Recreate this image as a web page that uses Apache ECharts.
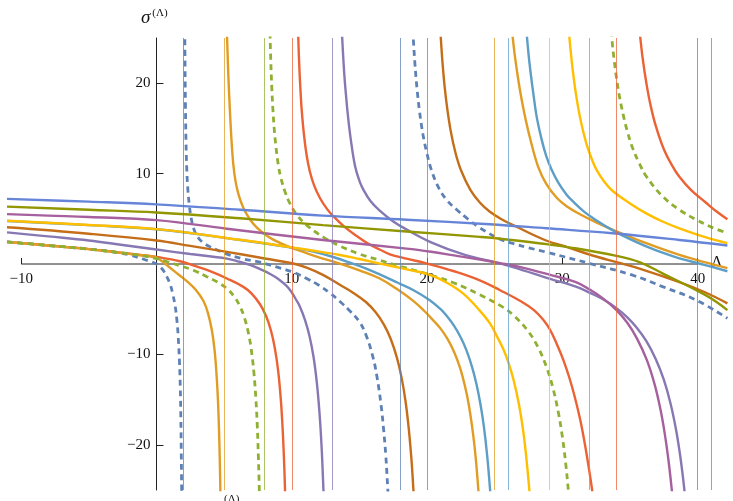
<!DOCTYPE html>
<html>
<head>
<meta charset="utf-8">
<script src="https://cdn.jsdelivr.net/npm/echarts@6/dist/echarts.min.js"></script>
<style>
  html, body { margin: 0; padding: 0; background: #fff; }
  #chart { width: 733px; height: 501px; }
</style>
</head>
<body>
<div id="chart"></div>
<script>
// ---- data: [Λ, σ] pairs, one array per branch ----
const f1a = [[-11.05,2.45],[-8,2.05],[-5,1.65],[-3,1.3],[-2,1.0],[-1,0.55],[-0.5,0.3],[0,0],[0.25,-0.28],[0.5,-0.7],[0.75,-1.35],[1.0,-2.2],[1.2,-3.3],[1.38,-4.65],[1.5,-6.1],[1.6,-7.9],[1.7,-10.9],[1.76,-13.7],[1.8,-17.1],[1.83,-20.6],[1.86,-25],[1.875,-28]];
const f1b = [[2.09,26],[2.11,22],[2.14,17.5],[2.18,13.6],[2.24,10.4],[2.32,8.2],[2.42,6.6],[2.55,5.2],[2.73,4.0],[2.95,3.2],[3.2,2.7],[3.5,2.3],[3.9,1.95],[4.4,1.6],[5.2,1.1],[6.3,0.6],[7.65,0.2],[8.8,-0.3],[10.1,-0.9],[11.1,-1.6],[12.0,-2.35],[12.8,-3.2],[13.6,-4.2],[14.3,-5.2],[15.0,-6.4],[15.5,-7.9],[16.0,-10.3],[16.3,-12.5],[16.6,-15.6],[16.8,-18.5],[16.95,-21.2],[17.1,-25],[17.15,-26.5]];
const f1c = [[18.93,26],[19.0,24.5],[19.1,22.2],[19.25,19.5],[19.45,16.8],[19.7,14.3],[19.95,12.5],[20.3,10.5],[20.9,8.3],[21.5,7.0],[22.2,6.0],[23.0,5.0],[23.9,4.0],[25.4,2.75],[26.4,2.25],[27.5,1.8],[29.1,1.2],[32.05,0.05],[35.2,-1.24],[37.4,-2.5],[39.9,-4.0],[42.2,-6.0]];

const f2a = [[-11.05,2.45],[-8,2.05],[-5,1.65],[-3,1.3],[-1.5,1.02],[-0.5,0.88],[0,0.72],[0.4,0.32],[0.76,-0.12],[1.2,-0.65],[1.7,-1.25],[2.24,-1.9],[2.9,-2.85],[3.47,-4.1],[3.8,-5.4],[4.09,-7.3],[4.3,-9.6],[4.45,-12.5],[4.55,-15.3],[4.62,-18.3],[4.68,-21.8],[4.72,-25],[4.74,-27]];
const f2b = [[5.2,25.8],[5.25,23.5],[5.32,20.5],[5.42,17.2],[5.54,13.8],[5.68,11.0],[5.86,9.0],[6.1,7.5],[6.45,6.1],[6.9,4.95],[7.4,4.05],[8.0,3.3],[8.63,2.7],[9.8,1.9],[11.1,1.2],[12.3,0.6],[13.55,0.05],[15,-0.7],[16.5,-1.6],[17.8,-2.8],[19,-4.1],[19.8,-5.2],[20.5,-6.3],[21.0,-7.15],[21.5,-8.26],[22.0,-9.73],[22.44,-11.5],[22.8,-13.5],[23.1,-15.7],[23.4,-18.8],[23.6,-21.5],[23.79,-25],[23.85,-26.4]];
const f2c = [[26.28,25.8],[26.45,23.5],[26.65,21.3],[26.87,19.2],[27.2,16.6],[27.6,14.0],[28.2,10.8],[28.8,8.9],[29.6,7.3],[30.4,6.3],[31.3,5.5],[32.5,4.6],[33.7,3.8],[36.2,2.3],[38.65,1.0],[40.5,0.2],[42.2,-0.45]];

const f3a = [[-11.05,2.45],[-8,2.05],[-5,1.65],[-3,1.3],[-1.5,1.02],[0,0.6],[0.8,0.25],[1.74,-0.2],[2.73,-0.69],[3.72,-1.4],[4.5,-2.0],[5.2,-2.71],[5.8,-3.73],[6.2,-4.78],[6.5,-5.93],[6.8,-7.67],[7.0,-9.4],[7.2,-12.0],[7.35,-15.0],[7.45,-17.9],[7.53,-21.3],[7.6,-25],[7.63,-27]];
const f3b = [[8.39,25.6],[8.45,22.4],[8.52,19.6],[8.6,17.2],[8.7,15.0],[8.82,13.1],[9.0,11.0],[9.2,9.5],[9.5,8.0],[9.86,6.7],[10.4,5.4],[11.1,4.3],[12.3,3.0],[13.55,2.0],[15,1.1],[16.5,0.42],[18,-0.25],[20,-1.1],[22,-2.1],[23.9,-3.4],[25.6,-4.77],[26.4,-5.7],[27.4,-7.3],[28.2,-9.2],[28.85,-11.5],[29.3,-13.7],[29.7,-16.4],[30.0,-19.1],[30.25,-22.1],[30.44,-25],[30.5,-26]];
const f3c = [[33.6,25.8],[33.7,24.3],[33.85,22.3],[34.0,20.6],[34.2,18.7],[34.5,16.5],[34.8,14.7],[35.2,12.8],[35.7,11.1],[36.2,9.7],[37.4,7.5],[38.65,6.0],[39.9,4.9],[41,4.1],[42.2,3.4]];

const f4a = [[-11.05,2.45],[-8,2.05],[-5,1.65],[-3,1.32],[-1.5,1.05],[0.27,0.72],[1.74,0.3],[3.0,-0.3],[3.96,-0.8],[5.2,-1.6],[6.42,-2.53],[7.0,-3.23],[7.65,-4.45],[8.1,-5.75],[8.45,-7.3],[8.75,-9.33],[9.0,-11.9],[9.2,-15.2],[9.35,-19.0],[9.45,-22.6],[9.5,-25],[9.53,-26.7]];
const f4b = [[10.46,26],[10.5,24.1],[10.56,21.7],[10.64,19.3],[10.73,17.1],[10.9,14.3],[11.1,12.0],[11.34,10.2],[11.65,8.7],[12.08,7.3],[12.6,6.1],[13.06,5.3],[13.9,4.1],[14.8,3.1],[15.6,2.3],[16.5,1.6],[17.3,1.05],[18.3,0.65],[20,0.05],[22,-0.8],[23.9,-1.8],[25.4,-2.9],[26.9,-4.1],[27.9,-5.1],[28.6,-6.2],[29.1,-7.3],[29.6,-8.9],[30.07,-10.6],[30.5,-12.5],[30.9,-14.6],[31.3,-17.1],[31.65,-19.8],[31.95,-22.5],[32.2,-25],[32.3,-26.5]];
const f4c = [[35.68,26.2],[35.8,24.5],[35.95,22.6],[36.2,20.1],[36.5,17.7],[36.9,15.3],[37.5,12.7],[38.15,10.8],[38.65,9.65],[39.5,8.2],[40.6,6.8],[41.4,5.8],[42.2,4.95]];

const f5a = [[-11.05,3.5],[-8,3.05],[-5,2.6],[-2.5,2.1],[0,1.6],[2.5,1.1],[5.2,0.6],[6.0,0.3],[6.9,-0.1],[7.7,-0.6],[8.4,-1.1],[9.0,-1.65],[9.63,-2.45],[10.0,-3.15],[10.3,-3.9],[10.61,-4.75],[10.98,-6.2],[11.3,-7.9],[11.6,-10.2],[11.85,-13.1],[12.05,-16.5],[12.2,-20.1],[12.34,-25],[12.38,-26.8]];
const f5b = [[13.7,25.8],[13.78,23.5],[13.88,21.0],[14.0,18.8],[14.15,16.4],[14.35,13.9],[14.68,10.8],[15.0,9.2],[15.3,8.2],[15.8,7.0],[16.5,5.9],[17.5,4.7],[18.5,3.8],[20.3,2.4],[22.8,1.0],[24.62,0.35],[26.34,-0.35],[29.1,-1.65],[31,-2.5],[32.05,-3.2],[33,-3.9],[34,-4.88],[34.8,-5.9],[35.5,-7.04],[36.2,-8.5],[36.9,-10.5],[37.5,-12.8],[38,-15.45],[38.4,-18.3],[38.7,-21.1],[38.9,-23.4],[39.02,-25],[39.1,-26.2]];

const f6a = [[-11.05,4.06],[-5,3.35],[0,2.6],[2.5,2.0],[5.2,1.34],[7.5,0.75],[10.1,0.05],[11.1,-0.4],[12.3,-1.2],[13.55,-2.3],[14.5,-3.14],[15.5,-4.23],[16.2,-5.34],[16.8,-6.67],[17.3,-8.24],[17.76,-10.3],[18.1,-12.46],[18.4,-15.1],[18.65,-18.26],[18.85,-21.7],[18.99,-25],[19.05,-26.7]];
const f6b = [[20.98,25.9],[21.05,24.2],[21.15,22.1],[21.3,19.6],[21.5,17.1],[21.75,14.7],[22.1,12.3],[22.5,10.4],[23.2,8.2],[23.9,6.8],[24.62,5.8],[25.5,4.95],[26.5,4.2],[28.8,2.6],[30.3,1.9],[32,1.05],[34,0.2],[35.7,-0.5],[38.65,-2.0],[40.5,-3.1],[42.2,-4.35]];

const f7a = [[-11.05,4.76],[-5,4.3],[0,3.84],[6.18,2.66],[9.86,1.85],[11.5,1.4],[13,0.8],[14.5,0.05],[15.5,-0.5],[16.5,-1.15],[17.8,-2.05],[19,-2.9],[20.2,-4.0],[21.0,-5.0],[21.46,-5.76],[22.0,-6.85],[22.5,-8.16],[22.9,-9.5],[23.3,-11.26],[23.65,-13.27],[23.95,-15.55],[24.2,-18.0],[24.45,-21.3],[24.66,-25],[24.72,-26.3]];
const f7b = [[27.35,25.8],[27.42,24.5],[27.55,22.5],[27.7,20.6],[27.86,18.8],[28.1,16.3],[28.48,13.7],[28.8,12.0],[29.2,10.45],[29.7,9.0],[30.3,7.7],[30.8,6.9],[31.6,5.8],[32.5,4.85],[33.7,3.75],[35,2.75],[36.2,1.95],[37.4,1.25],[38.65,0.63],[40.5,-0.1],[42.2,-0.8]];

const f8a = [[-11.05,4.78],[-5,4.32],[0,3.86],[6.18,2.68],[9.86,1.87],[11.5,1.5],[13.55,1.0],[15,0.55],[16.5,0.05],[18.5,-0.6],[20.2,-1.2],[21.5,-2.1],[22.7,-3.3],[23.8,-5.0],[24.66,-6.6],[25.2,-8.1],[25.6,-9.3],[26.0,-10.84],[26.4,-12.86],[26.8,-15.6],[27.1,-18.4],[27.35,-21.6],[27.56,-25],[27.63,-26.4]];
const f8b = [[30.48,25.75],[30.6,23.8],[30.75,21.66],[31.0,18.85],[31.35,15.9],[31.76,13.4],[32.1,11.9],[32.5,10.5],[33.1,9.1],[33.7,8.1],[35,6.7],[36.2,5.6],[37.4,4.7],[38.65,3.95],[40.5,3.0],[42.2,2.3]];

const f9a = [[-11.05,5.52],[-8,5.35],[-5,5.2],[0,4.85],[5.2,3.9],[12.3,2.66],[18.48,1.7],[20.3,1.35],[22,0.95],[23.9,0.5],[25.4,0.1],[26.9,-0.35],[29.1,-1.2],[31,-2.0],[32.05,-2.85],[33,-3.8],[34,-5.1],[34.8,-6.5],[35.5,-8.2],[36.24,-10.6],[36.8,-13.2],[37.2,-15.7],[37.47,-17.85],[37.7,-20.1],[37.9,-22.4],[38.09,-25],[38.15,-26]];

const f10a = [[-11.05,6.35],[-5,6.0],[0,5.7],[6.18,5.06],[12.3,4.3],[18.48,3.6],[23.9,3.0],[25.4,2.8],[28.8,2.2],[30.3,1.9],[34,0.9],[35.7,0.2],[37.4,-1.03],[39.9,-2.9],[41.2,-4.0],[42.2,-5.1]];

const f12a = [[-11.05,7.2],[-5,6.9],[0,6.6],[6.18,6.0],[12.3,5.35],[18.48,4.9],[24.62,4.4],[28.8,3.95],[33.7,3.4],[38.65,2.66],[42.2,2.05]];

// asymptotes (Λ positions) and which curve each belongs to
const poles = [2, 5, 8, 10, 13, 18, 20, 25, 26, 29, 32, 34, 40, 41];
const poleOwner = [1, 2, 3, 4, 5, 1, 6, 2, 7, 8, 3, 4, 9, 5];

const xTicks = [-10, 10, 20, 30, 40];
const yTicks = [-20, -10, 10, 20];
const xAxisSpan = [[-10, 0], [40, 0]];

// ---- layout / styles ----
const W = 733, H = 501;
const gridBox = { left: 7, right: 6, top: 38, bottom: 11 };
const xRange = [-11.05, 42.17];
const yRange = [-25, 25];

const palette = {
  1: '#5E81B5', 2: '#E19C24', 3: '#8FB032', 4: '#EB6235', 5: '#8778B3', 6: '#C56E1A',
  7: '#5D9EC7', 8: '#FFBF00', 9: '#A5609D', 10: '#929600', 12: '#6685D9'
};
const dashedSet = { 1: true, 3: true };

// draw order (later on top)
const curves = [
  [1, [f1a, f1b, f1c]],
  [4, [f4a, f4b, f4c]],
  [2, [f2a, f2b, f2c]],
  [3, [f3a, f3b, f3c]],
  [5, [f5a, f5b]],
  [6, [f6a, f6b]],
  [7, [f7a, f7b]],
  [8, [f8a, f8b]],
  [9, [f9a]],
  [10, [f10a]],
  [12, [f12a]]
];

const serif = '"Liberation Serif", "DejaVu Serif", serif';
const minus = v => (v < 0 ? '\u2212' + Math.abs(v) : String(v));

// axes sit on the origin: shift them in from the grid edges by the scale position of 0
const gw = W - gridBox.left - gridBox.right;
const gh = H - gridBox.top - gridBox.bottom;
const yAxisShift = -((0 - xRange[0]) / (xRange[1] - xRange[0])) * gw;
const xAxisShift = -((0 - yRange[0]) / (yRange[1] - yRange[0])) * gh;

const series = [];

// asymptote lines
series.push({
  type: 'line', data: [], silent: true, z: 1,
  markLine: {
    silent: true, symbol: ['none', 'none'], animation: false,
    label: { show: false },
    data: poles.map((p, i) => ({ xAxis: p, lineStyle: { color: palette[poleOwner[i]], width: 1, type: 'solid', opacity: 0.75 } }))
  }
});

// x axis line only from -10 to 40
series.push({
  type: 'line', data: xAxisSpan, silent: true, z: 1, symbol: 'none',
  lineStyle: { color: '#222', width: 1 }
});

curves.forEach(([k, branches]) => {
  branches.forEach(b => {
    series.push({
      type: 'line', data: b, symbol: 'none', showSymbol: false, silent: true,
      smooth: 0.4, clip: true, z: 2,
      lineStyle: dashedSet[k]
        ? { color: palette[k], width: 2.8, type: [6, 4.5], cap: 'butt' }
        : { color: palette[k], width: 2.4, type: 'solid' }
    });
  });
});

const chart = echarts.init(document.getElementById('chart'), null, { renderer: 'canvas' });
chart.setOption({
  animation: false,
  backgroundColor: '#fff',
  grid: Object.assign({ containLabel: false, outerBoundsMode: 'none' }, gridBox),
  xAxis: {
    type: 'value', min: xRange[0], max: xRange[1], position: 'bottom', offset: xAxisShift,
    axisLine: { show: true, onZero: false, lineStyle: { color: '#222', opacity: 0 } },
    axisTick: { show: true, inside: true, length: 6, customValues: xTicks, lineStyle: { color: '#222' } },
    axisLabel: { customValues: xTicks, formatter: minus, fontFamily: serif, fontSize: 15, color: '#111', margin: 8 },
    splitLine: { show: false }
  },
  yAxis: {
    type: 'value', min: yRange[0], max: yRange[1], position: 'left', offset: yAxisShift,
    axisLine: { show: true, onZero: false, lineStyle: { color: '#222', width: 1 } },
    axisTick: { show: true, inside: true, length: 7, customValues: yTicks, lineStyle: { color: '#222' } },
    axisLabel: { customValues: yTicks, formatter: minus, fontFamily: serif, fontSize: 15, color: '#111', margin: 6 },
    splitLine: { show: false }
  },
  graphic: [
    {
      type: 'text', left: 141, top: 8, silent: true,
      style: {
        text: '{s|σ}{p|(Λ)}',
        rich: {
          s: { fontFamily: serif, fontStyle: 'italic', fontSize: 19, fill: '#111' },
          p: { fontFamily: serif, fontSize: 11, fill: '#111', verticalAlign: 'top', padding: [0, 0, 8, 2] }
        }
      }
    },
    { type: 'text', left: 711, top: 255, silent: true, style: { text: 'Λ', fontFamily: serif, fontSize: 16, fill: '#111' } },
    { type: 'text', left: 224, top: 494, silent: true, style: { text: '(Λ)', fontFamily: serif, fontSize: 11, fill: '#111' } }
  ],
  series: series
});
</script>
</body>
</html>
